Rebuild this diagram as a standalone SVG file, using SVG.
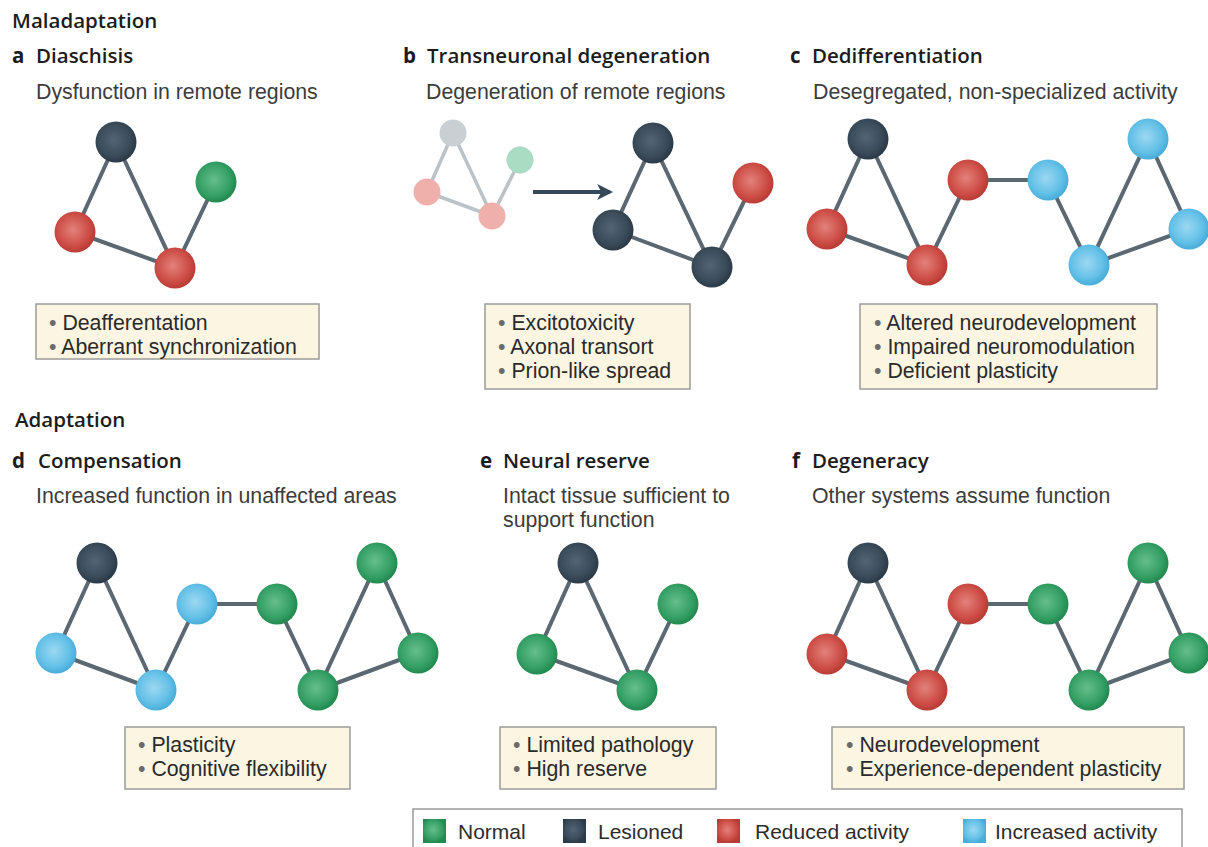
<svg xmlns="http://www.w3.org/2000/svg" width="1208" height="847" viewBox="0 0 1208 847">
<style>
.hd{font-family:"Open Sans","Liberation Sans",sans-serif;font-weight:600;font-size:20.5px;fill:#1c1c1c}
.lt{font-family:"Open Sans","Liberation Sans",sans-serif;font-weight:700;font-size:20.5px;fill:#1c1c1c}
.sub{font-family:"Liberation Sans",sans-serif;font-size:21.3px;fill:#3c3c3c}
.bx{fill:#fcf5e2;stroke:#9b9b9b;stroke-width:1.5}
.bt{font-family:"Liberation Sans",sans-serif;font-size:21.3px;fill:#2a2a2a}
.bu{fill:#6a6a6a}
.lg{font-family:"Liberation Sans",sans-serif;font-size:21px;fill:#2c2c2c}
.e{stroke:#5b6771;stroke-width:4;fill:none}
.ef{stroke:#bcc3c8;stroke-width:3.5;fill:none}
.n{fill:url(#gN)}
.l{fill:url(#gL)}
.r{fill:url(#gR)}
.i{fill:url(#gI)}
.fg{fill:#c9cfd3}
.fn{fill:#a9dcc2}
.fr{fill:#efb0ab}
</style>
<defs>
<radialGradient id="gN" cx="45%" cy="45%" r="55%"><stop offset="0" stop-color="#66be8c"/><stop offset="0.7" stop-color="#35a065"/><stop offset="1" stop-color="#22894f"/></radialGradient>
<radialGradient id="gL" cx="45%" cy="45%" r="55%"><stop offset="0" stop-color="#526575"/><stop offset="0.7" stop-color="#3a4b5a"/><stop offset="1" stop-color="#2b3a47"/></radialGradient>
<radialGradient id="gR" cx="45%" cy="45%" r="55%"><stop offset="0" stop-color="#e2827b"/><stop offset="0.7" stop-color="#cd4e46"/><stop offset="1" stop-color="#b83c35"/></radialGradient>
<radialGradient id="gI" cx="45%" cy="45%" r="55%"><stop offset="0" stop-color="#9dd8f1"/><stop offset="0.7" stop-color="#63c0e7"/><stop offset="1" stop-color="#48add9"/></radialGradient>
<marker id="ah" viewBox="0 0 10 10" refX="8" refY="5" markerWidth="4" markerHeight="4" orient="auto"><path d="M0,0 L10,5 L0,10 L2.5,5 Z" fill="#34495a"/></marker>
</defs>
<rect width="1208" height="847" fill="#ffffff"/>

<text class="hd" x="12" y="28">Maladaptation</text>
<text class="hd" x="15" y="427">Adaptation</text>

<g id="connectors">
  <!-- a -->
  <line class="e" x1="116" y1="142" x2="75" y2="232"/>
  <line class="e" x1="116" y1="142" x2="175" y2="268"/>
  <line class="e" x1="75" y1="232" x2="175" y2="268"/>
  <line class="e" x1="175" y1="268" x2="216" y2="182"/>
  <!-- b faded -->
  <line class="ef" x1="453" y1="133" x2="427" y2="192"/>
  <line class="ef" x1="453" y1="133" x2="492" y2="216"/>
  <line class="ef" x1="427" y1="192" x2="492" y2="216"/>
  <line class="ef" x1="492" y1="216" x2="520" y2="160"/>
  <!-- b arrow -->
  <line x1="533" y1="192" x2="610" y2="192" stroke="#34495a" stroke-width="4" marker-end="url(#ah)"/>
  <!-- b -->
  <line class="e" x1="653" y1="143" x2="613" y2="230"/>
  <line class="e" x1="653" y1="143" x2="712" y2="267"/>
  <line class="e" x1="613" y1="230" x2="712" y2="267"/>
  <line class="e" x1="712" y1="267" x2="753" y2="183"/>
  <!-- c -->
  <line class="e" x1="868" y1="139" x2="827" y2="229"/>
  <line class="e" x1="868" y1="139" x2="927" y2="265"/>
  <line class="e" x1="827" y1="229" x2="927" y2="265"/>
  <line class="e" x1="927" y1="265" x2="968" y2="180"/>
  <line class="e" x1="968" y1="180" x2="1048" y2="180"/>
  <line class="e" x1="1048" y1="180" x2="1089" y2="265"/>
  <line class="e" x1="1089" y1="265" x2="1148" y2="139"/>
  <line class="e" x1="1089" y1="265" x2="1189" y2="229"/>
  <line class="e" x1="1148" y1="139" x2="1189" y2="229"/>
  <!-- d -->
  <line class="e" x1="97" y1="563" x2="56" y2="653"/>
  <line class="e" x1="97" y1="563" x2="156" y2="690"/>
  <line class="e" x1="56" y1="653" x2="156" y2="690"/>
  <line class="e" x1="156" y1="690" x2="197" y2="604"/>
  <line class="e" x1="197" y1="604" x2="277" y2="604"/>
  <line class="e" x1="277" y1="604" x2="318" y2="690"/>
  <line class="e" x1="318" y1="690" x2="377" y2="563"/>
  <line class="e" x1="318" y1="690" x2="418" y2="653"/>
  <line class="e" x1="377" y1="563" x2="418" y2="653"/>
  <!-- e -->
  <line class="e" x1="578" y1="563" x2="537" y2="654"/>
  <line class="e" x1="578" y1="563" x2="637" y2="690"/>
  <line class="e" x1="537" y1="654" x2="637" y2="690"/>
  <line class="e" x1="637" y1="690" x2="678" y2="604"/>
  <!-- f -->
  <line class="e" x1="868" y1="563" x2="827" y2="654"/>
  <line class="e" x1="868" y1="563" x2="927" y2="690"/>
  <line class="e" x1="827" y1="654" x2="927" y2="690"/>
  <line class="e" x1="927" y1="690" x2="968" y2="604"/>
  <line class="e" x1="968" y1="604" x2="1048" y2="604"/>
  <line class="e" x1="1048" y1="604" x2="1089" y2="690"/>
  <line class="e" x1="1089" y1="690" x2="1148" y2="563"/>
  <line class="e" x1="1089" y1="690" x2="1189" y2="653"/>
  <line class="e" x1="1148" y1="563" x2="1189" y2="653"/>
</g>

<g id="panel-a">
  <text class="lt" x="12" y="63">a</text>
  <text class="hd" x="36" y="63">Diaschisis</text>
  <text class="sub" x="36" y="99">Dysfunction in remote regions</text>
  <g id="a-n1"><circle class="l" cx="116" cy="142" r="20.5"/></g>
  <g id="a-n2"><circle class="r" cx="75" cy="232" r="20.5"/></g>
  <g id="a-n3"><circle class="r" cx="175" cy="268" r="20.5"/></g>
  <g id="a-n4"><circle class="n" cx="216" cy="182" r="20.5"/></g>
  <g id="a-box">
    <rect class="bx" x="36" y="304" width="283" height="55"/>
    <text class="bt"><tspan x="49" y="330"><tspan class="bu">•</tspan> Deafferentation</tspan><tspan x="49" y="354"><tspan class="bu">•</tspan> Aberrant synchronization</tspan></text>
  </g>
</g>

<g id="panel-b">
  <text class="lt" x="403" y="63">b</text>
  <text class="hd" x="427" y="63">Transneuronal degeneration</text>
  <text class="sub" x="426" y="99">Degeneration of remote regions</text>
  <g id="b-f1"><circle class="fg" cx="453" cy="133" r="13.5"/></g>
  <g id="b-f2"><circle class="fr" cx="427" cy="192" r="13.5"/></g>
  <g id="b-f3"><circle class="fr" cx="492" cy="216" r="13.5"/></g>
  <g id="b-f4"><circle class="fn" cx="520" cy="160" r="13.5"/></g>
  <g id="b-n1"><circle class="l" cx="653" cy="143" r="20.5"/></g>
  <g id="b-n2"><circle class="l" cx="613" cy="230" r="20.5"/></g>
  <g id="b-n3"><circle class="l" cx="712" cy="267" r="20.5"/></g>
  <g id="b-n4"><circle class="r" cx="753" cy="183" r="20.5"/></g>
  <g id="b-box">
    <rect class="bx" x="485" y="304" width="205" height="85"/>
    <text class="bt"><tspan x="498" y="330"><tspan class="bu">•</tspan> Excitotoxicity</tspan><tspan x="498" y="354"><tspan class="bu">•</tspan> Axonal transort</tspan><tspan x="498" y="378"><tspan class="bu">•</tspan> Prion-like spread</tspan></text>
  </g>
</g>

<g id="panel-c">
  <text class="lt" x="790" y="63">c</text>
  <text class="hd" x="812" y="63">Dedifferentiation</text>
  <text class="sub" x="813" y="99">Desegregated, non-specialized activity</text>
  <g id="c-n1"><circle class="l" cx="868" cy="139" r="20.5"/></g>
  <g id="c-n2"><circle class="r" cx="827" cy="229" r="20.5"/></g>
  <g id="c-n3"><circle class="r" cx="927" cy="265" r="20.5"/></g>
  <g id="c-n4"><circle class="r" cx="968" cy="180" r="20.5"/></g>
  <g id="c-n5"><circle class="i" cx="1048" cy="180" r="20.5"/></g>
  <g id="c-n6"><circle class="i" cx="1089" cy="265" r="20.5"/></g>
  <g id="c-n7"><circle class="i" cx="1148" cy="139" r="20.5"/></g>
  <g id="c-n8"><circle class="i" cx="1189" cy="229" r="20.5"/></g>
  <g id="c-box">
    <rect class="bx" x="860" y="304" width="297" height="85"/>
    <text class="bt"><tspan x="874" y="330"><tspan class="bu">•</tspan> Altered neurodevelopment</tspan><tspan x="874" y="354"><tspan class="bu">•</tspan> Impaired neuromodulation</tspan><tspan x="874" y="378"><tspan class="bu">•</tspan> Deficient plasticity</tspan></text>
  </g>
</g>

<g id="panel-d">
  <text class="lt" x="12" y="468">d</text>
  <text class="hd" x="38" y="468">Compensation</text>
  <text class="sub" x="36" y="503">Increased function in unaffected areas</text>
  <g id="d-n1"><circle class="l" cx="97" cy="563" r="20.5"/></g>
  <g id="d-n2"><circle class="i" cx="56" cy="653" r="20.5"/></g>
  <g id="d-n3"><circle class="i" cx="156" cy="690" r="20.5"/></g>
  <g id="d-n4"><circle class="i" cx="197" cy="604" r="20.5"/></g>
  <g id="d-n5"><circle class="n" cx="277" cy="604" r="20.5"/></g>
  <g id="d-n6"><circle class="n" cx="318" cy="690" r="20.5"/></g>
  <g id="d-n7"><circle class="n" cx="377" cy="563" r="20.5"/></g>
  <g id="d-n8"><circle class="n" cx="418" cy="653" r="20.5"/></g>
  <g id="d-box">
    <rect class="bx" x="125" y="727" width="225" height="62"/>
    <text class="bt"><tspan x="138" y="752"><tspan class="bu">•</tspan> Plasticity</tspan><tspan x="138" y="776"><tspan class="bu">•</tspan> Cognitive flexibility</tspan></text>
  </g>
</g>

<g id="panel-e">
  <text class="lt" x="480" y="468">e</text>
  <text class="hd" x="503" y="468">Neural reserve</text>
  <text class="sub"><tspan x="503" y="503">Intact tissue sufficient to</tspan><tspan x="503" y="527">support function</tspan></text>
  <g id="e-n1"><circle class="l" cx="578" cy="563" r="20.5"/></g>
  <g id="e-n2"><circle class="n" cx="537" cy="654" r="20.5"/></g>
  <g id="e-n3"><circle class="n" cx="637" cy="690" r="20.5"/></g>
  <g id="e-n4"><circle class="n" cx="678" cy="604" r="20.5"/></g>
  <g id="e-box">
    <rect class="bx" x="500" y="727" width="216" height="62"/>
    <text class="bt"><tspan x="513" y="752"><tspan class="bu">•</tspan> Limited pathology</tspan><tspan x="513" y="776"><tspan class="bu">•</tspan> High reserve</tspan></text>
  </g>
</g>

<g id="panel-f">
  <text class="lt" x="792" y="468">f</text>
  <text class="hd" x="812" y="468">Degeneracy</text>
  <text class="sub" x="812" y="503">Other systems assume function</text>
  <g id="f-n1"><circle class="l" cx="868" cy="563" r="20.5"/></g>
  <g id="f-n2"><circle class="r" cx="827" cy="654" r="20.5"/></g>
  <g id="f-n3"><circle class="r" cx="927" cy="690" r="20.5"/></g>
  <g id="f-n4"><circle class="r" cx="968" cy="604" r="20.5"/></g>
  <g id="f-n5"><circle class="n" cx="1048" cy="604" r="20.5"/></g>
  <g id="f-n6"><circle class="n" cx="1089" cy="690" r="20.5"/></g>
  <g id="f-n7"><circle class="n" cx="1148" cy="563" r="20.5"/></g>
  <g id="f-n8"><circle class="n" cx="1189" cy="653" r="20.5"/></g>
  <g id="f-box">
    <rect class="bx" x="832" y="727" width="352" height="62"/>
    <text class="bt"><tspan x="846" y="752"><tspan class="bu">•</tspan> Neurodevelopment</tspan><tspan x="846" y="776"><tspan class="bu">•</tspan> Experience-dependent plasticity</tspan></text>
  </g>
</g>

<g id="legend">
  <rect x="413" y="809" width="769" height="50" fill="#ffffff" stroke="#9b9b9b" stroke-width="1.5"/>
  <rect x="423" y="819" width="23" height="24" fill="url(#gN)"/>
  <text class="lg" x="458" y="839">Normal</text>
  <rect x="563" y="819" width="23" height="24" fill="url(#gL)"/>
  <text class="lg" x="598" y="839">Lesioned</text>
  <rect x="717" y="819" width="23" height="24" fill="url(#gR)"/>
  <text class="lg" x="755" y="839">Reduced activity</text>
  <rect x="963" y="819" width="23" height="24" fill="url(#gI)"/>
  <text class="lg" x="995" y="839">Increased activity</text>
</g>
</svg>
